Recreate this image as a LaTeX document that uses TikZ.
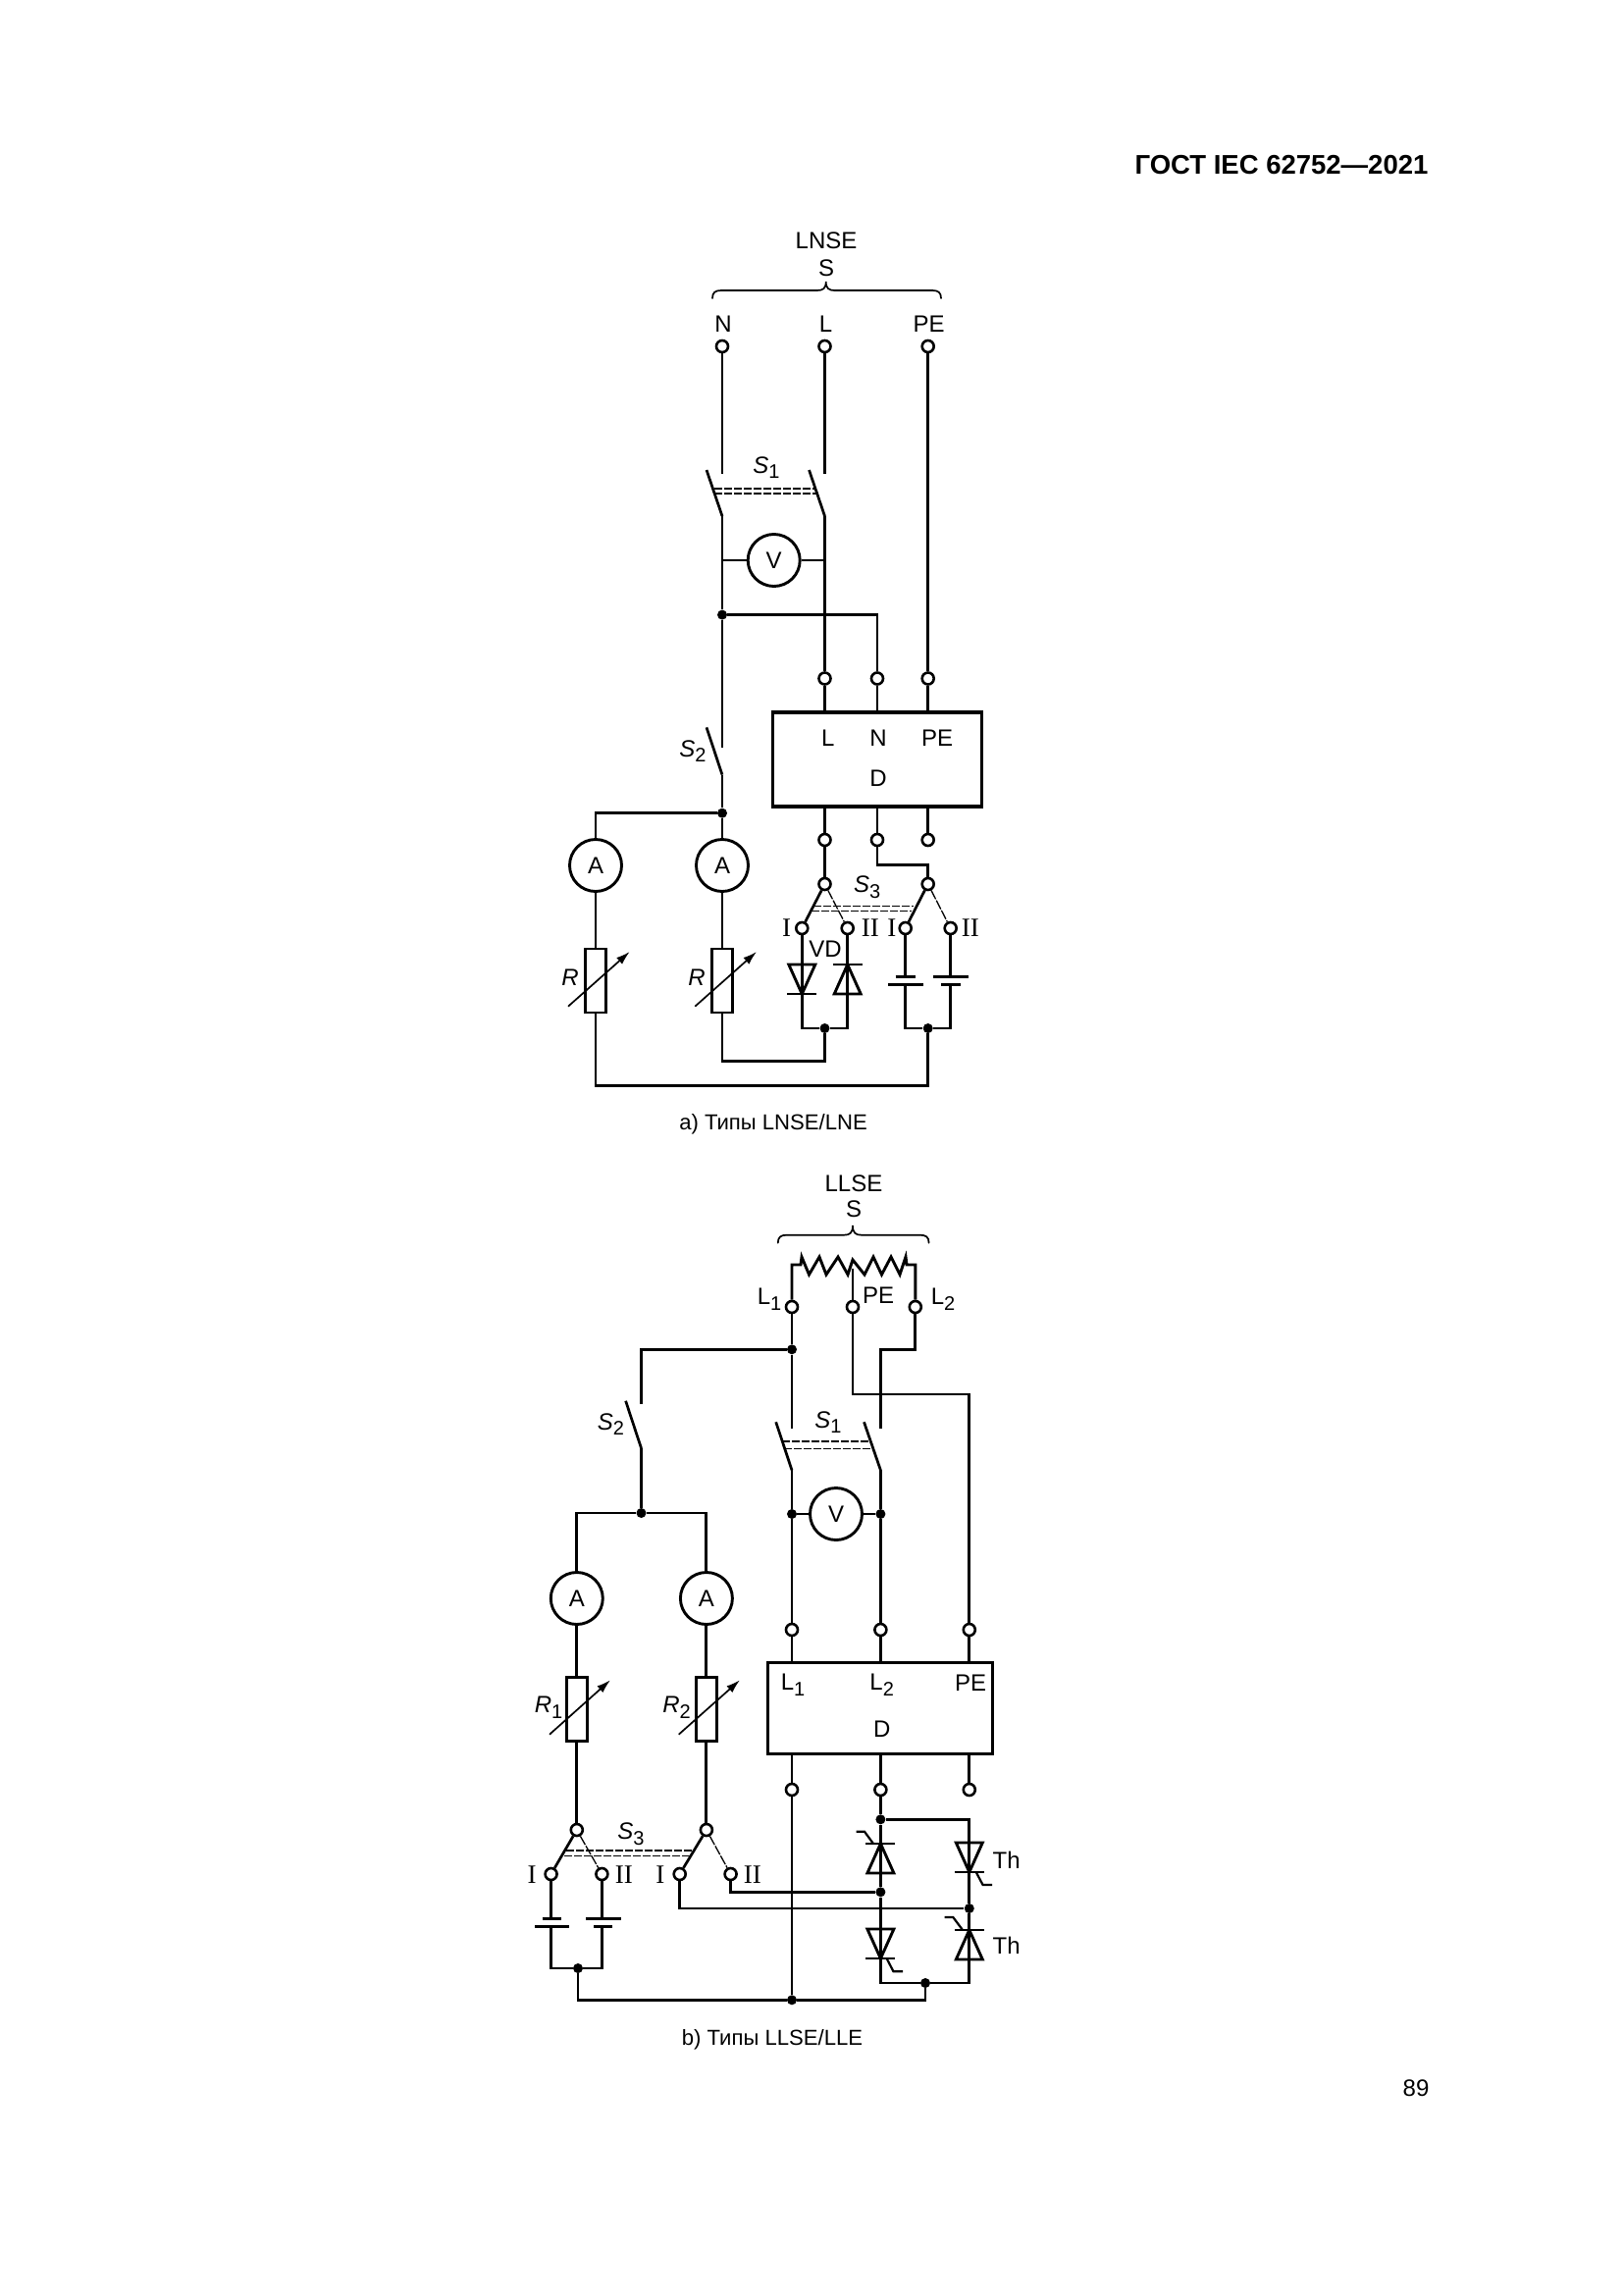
\documentclass[tikz,border=0pt]{standalone}
\usepackage{fontspec}
\setmainfont{Liberation Sans}
\newfontfamily\romanfont{Liberation Serif}
\usetikzlibrary{arrows.meta}
\newcommand\sbs[2]{#1\raisebox{-.4ex}{\fontsize{10}{10}\selectfont #2}}
\newcommand\itsb[2]{\textit{#1}\raisebox{-.4ex}{\fontsize{10}{10}\selectfont #2}}
% diode / thyristor triangles: x, base y, apex y
\newcommand\vdiode[3]{%
  \draw[wire,line join=miter] (#1-13.5,#2) -- (#1+13.5,#2) -- (#1,#3) -- cycle;
  \draw[wire] (#1-15,#3) -- (#1+15,#3);}
\newcommand\mybrace[5]{% x1 x2 xtip ybase ytip
  \draw[thinw,line cap=round] (#1,#4+8) .. controls (#1,#4+2) and (#1+3,#4) .. (#1+9,#4)
   -- (#3-9,#4) .. controls (#3-3,#4) and (#3,#4-2) .. (#3,#5)
   .. controls (#3,#4-2) and (#3+3,#4) .. (#3+9,#4)
   -- (#2-9,#4) .. controls (#2-3,#4) and (#2,#4+2) .. (#2,#4+8);}
\tikzset{
  wire/.style={line width=1.45pt},
  thinw/.style={line width=.85pt},
  blade/.style={line width=1.35pt},
  bladethin/.style={line width=.65pt,dash pattern=on 5pt off .7pt},
  gang/.style={line width=.7pt,dash pattern=on 4pt off 1pt},
  term/.style={circle,draw,line width=1.3pt,fill=white,minimum size=6pt,inner sep=0pt},
  junc/.style={circle,fill=black,minimum size=5pt,inner sep=0pt},
  meter/.style={circle,draw,line width=1.45pt,fill=white,minimum size=26.5pt,inner sep=0pt,font=\fontsize{12}{12}\selectfont},
  res/.style={rectangle,draw,line width=1.45pt,fill=white,minimum width=10.6pt,minimum height=32.5pt,inner sep=0pt},
  dev/.style={rectangle,draw,line width=1.55pt,inner sep=0pt},
  lab/.style={inner sep=0pt,xshift=.5pt,yshift=-.6pt,font=\fontsize{12}{13}\selectfont},
  rom/.style={inner sep=0pt,xshift=.4pt,yshift=-.4pt,font=\romanfont\fontsize{13.5}{13}\selectfont},
  varr/.style={line width=.85pt,-{Latex[length=7pt,width=4.4pt]}},
}
\begin{document}
\begin{tikzpicture}[x=.5pt,y=-.5pt]
\useasboundingbox (0,0) rectangle (1654,2339);
\fill[white] (0,0) rectangle (1654,2339);

\node[inner sep=0pt,font=\bfseries\fontsize{13.75}{15}\selectfont] (hdr) at (1306,168) {ГОСТ IEC 62752—2021};
\node[inner sep=0pt,font=\fontsize{12}{14}\selectfont] (pg) at (1443,2128) {89};

%%%%%%%% (a)
\node[lab] (aT) at (841,244.5) {LNSE};
\node[lab] (aS) at (841,272) {S};
\mybrace{726}{959}{841.7}{296}{287}
\node[lab] (alN) at (736,329) {N};
\node[lab] (alL) at (840.5,329) {L};
\node[lab] (alPE) at (945.7,329) {PE};

\node[term] (aN) at (736,353) {};
\node[term] (aL) at (840.5,353) {};
\node[term] (aPE) at (945.7,353) {};
\coordinate (aNa) at (736,483);
\coordinate (aLa) at (840.5,483);
\coordinate (aNbt) at (720,479);
\coordinate (aNb) at (736,526);
\coordinate (aLbt) at (824.5,479);
\coordinate (aLb) at (840.5,526);
\node[meter] (aV) at (788.7,571) {V};
\coordinate (aVl) at (736,571);
\coordinate (aVr) at (840.5,571);
\node[junc] (aJ1) at (736,626.6) {};
\coordinate (aJ1r) at (894,626.6);
\node[term] (aLi) at (840.5,691.5) {};
\node[term] (aNi) at (894,691.5) {};
\node[term] (aPi) at (945.7,691.5) {};
\draw[wire] (aN) -- (aNa);
\draw[wire] (aL) -- (aLa);
\draw[blade] (aNbt) -- (aNb);
\draw[blade] (aLbt) -- (aLb);
\draw[gang] (728,498) -- (830,498);
\draw[gang] (728,503) -- (832,503);
\node[lab] (aS1) at (780,475) {\itsb{S}{1}};
\draw[wire] (aNb) -- (aJ1);
\draw[wire] (aLb) -- (aLi);
\draw[wire] (aVl) -- (aV);
\draw[wire] (aV) -- (aVr);
\draw[wire] (aPE) -- (aPi);
\draw[wire] (aJ1) -- (aJ1r) -- (aNi);

\node[dev,minimum width=106.5pt,minimum height=48pt] (aD) at (894,774) {};
\node[lab] (aDL) at (842.7,751.5) {L};
\node[lab] (aDN) at (894,751.5) {N};
\node[lab] (aDP) at (954,751.5) {PE};
\node[lab] (aDD) at (894,791.6) {D};
\draw[wire] (aLi) -- (aLi |- aD.north);
\draw[wire] (aNi) -- (aNi |- aD.north);
\draw[wire] (aPi) -- (aPi |- aD.north);

\coordinate (aS2a) at (736,762);
\coordinate (aS2t) at (720,741.4);
\coordinate (aS2b) at (736,789.6);
\node[junc] (aJ2) at (736,828.7) {};
\coordinate (aJ2l) at (607,828.7);
\draw[wire] (aJ1) -- (aS2a);
\draw[blade] (aS2t) -- (aS2b);
\draw[wire] (aS2b) -- (aJ2);
\node[lab] (aS2) at (705,764) {\itsb{S}{2}};

\node[meter] (aA1) at (607,882) {A};
\node[meter] (aA2) at (736,882) {A};
\node[res] (aR1) at (607,999.5) {};
\node[res] (aR2) at (736,999.5) {};
\draw[wire] (aJ2) -- (aJ2l) -- (aA1);
\draw[wire] (aJ2) -- (aA2);
\draw[wire] (aA1) -- (aR1);
\draw[wire] (aA2) -- (aR2);
\coordinate (aV1s) at (579,1025.7); \coordinate (aV1e) at (641.7,970);
\coordinate (aV2s) at (708.3,1025.7); \coordinate (aV2e) at (771,970);
\draw[varr] (aV1s) -- (aV1e);
\draw[varr] (aV2s) -- (aV2e);
\node[lab,font=\itshape\fontsize{12}{13}\selectfont] (aRl1) at (580,995) {R};
\node[lab,font=\itshape\fontsize{12}{13}\selectfont] (aRl2) at (709,995) {R};

\node[term] (aLo) at (840.5,856) {};
\node[term] (aNo) at (894,856) {};
\node[term] (aPo) at (945.7,856) {};
\node[term] (aSwL) at (840.5,901) {};
\node[term] (aSwP) at (945.7,901) {};
\node[term] (aC1) at (817.3,946) {};
\node[term] (aC2) at (863.7,946) {};
\node[term] (aC3) at (922.7,946) {};
\node[term] (aC4) at (968.7,946) {};
\draw[wire] (aLo |- aD.south) -- (aLo);
\draw[wire] (aNo |- aD.south) -- (aNo);
\draw[wire] (aPo |- aD.south) -- (aPo);
\draw[wire] (aLo) -- (aSwL);
\coordinate (aNk1) at (894,881.7); \coordinate (aNk2) at (945.7,881.7);
\draw[wire] (aNo) -- (aNk1) -- (aNk2) -- (aSwP);
\draw[blade] (aSwL) -- (aC1);
\draw[bladethin] (aSwL) -- (aC2);
\draw[blade] (aSwP) -- (aC3);
\draw[bladethin] (aSwP) -- (aC4);
\draw[gang] (829,923.3) -- (931,923.3);
\draw[gang] (827,928.3) -- (929,928.3);
\node[lab] (aS3) at (882.7,903) {\itsb{S}{3}};
\node[rom] (aI1) at (800.7,945) {I};
\node[rom] (aII1) at (886,945) {II};
\node[rom] (aI2) at (908,945) {I};
\node[rom] (aII2) at (988,945) {II};
\node[lab] (aVD) at (840,966) {VD};

\node[junc] (aJ3) at (840.5,1048) {};
\node[junc] (aJ4) at (945.7,1048) {};
\coordinate (aB1) at (817.3,1048); \coordinate (aB2) at (863.7,1048);
\coordinate (aB3) at (922.7,1048); \coordinate (aB4) at (968.7,1048);
\draw[wire] (aC1) -- (aB1) -- (aJ3);
\draw[wire] (aC2) -- (aB2) -- (aJ3);
\vdiode{817.3}{983}{1013}
\vdiode{863.7}{1013}{983}
% batteries
\draw[wire] (aC3) -- (922.7,995.7);
\draw[wire] (922.7,1003.3) -- (aB3) -- (aJ4);
\draw[wire] (aC4) -- (968.7,995.7);
\draw[wire] (968.7,1003.3) -- (aB4) -- (aJ4);
\draw[wire] (912.7,995.7) -- (932.7,995.7);
\draw[wire] (905,1003.3) -- (940.7,1003.3);
\draw[wire] (950.7,995.7) -- (986.7,995.7);
\draw[wire] (959,1003.3) -- (979,1003.3);
\coordinate (aK1) at (840.5,1081.7); \coordinate (aK2) at (736,1081.7);
\draw[wire] (aJ3) -- (aK1) -- (aK2) -- (aR2);
\coordinate (aK3) at (945.7,1106.7); \coordinate (aK4) at (607,1106.7);
\draw[wire] (aJ4) -- (aK3) -- (aK4) -- (aR1);
\node[inner sep=0pt,font=\fontsize{11.05}{13}\selectfont] (aCap) at (788,1145.5) {a) Типы LNSE/LNE};

%%%%%%%% (b)
\node[lab] (bT) at (869,1205) {LLSE};
\node[lab] (bS) at (869,1230.7) {S};
\mybrace{792.8}{946.6}{869}{1258.7}{1249}
\node[term] (bL1) at (807,1332) {};
\node[term] (bP) at (869,1332) {};
\node[term] (bL2) at (932.8,1332) {};
\coordinate (bZ1) at (807,1289); \coordinate (bZ2) at (932.8,1289);
\coordinate (bZm) at (869,1293);
\draw[wire,line join=miter] (bL1) -- (bZ1) -- (816,1289) -- (817,1281) -- (824.5,1299) -- (835,1281) -- (842,1299) -- (854,1281) -- (864,1299) -- (869,1284) -- (881,1299) -- (890,1281) -- (898.5,1299) -- (908,1281) -- (917,1299) -- (923,1281) -- (924,1289) -- (bZ2) -- (bL2);
\draw[wire] (bP) -- (bZm);
\node[lab] (blL1) at (783,1323) {\sbs{L}{1}};
\node[lab] (blP) at (894,1319) {PE};
\node[lab] (blL2) at (960,1323) {\sbs{L}{2}};

\node[junc] (bJ1) at (807,1375.3) {};
\coordinate (bS1a) at (807,1456);
\coordinate (bL2k1) at (932.8,1375.3); \coordinate (bL2k2) at (897.4,1375.3);
\coordinate (bS1b) at (897.4,1456);
\coordinate (bPk1) at (869,1421); \coordinate (bPk2) at (987.8,1421);
\node[term] (bLi1) at (807,1661) {};
\node[term] (bLi2) at (897.4,1661) {};
\node[term] (bPi) at (987.8,1661) {};
\draw[wire] (bL1) -- (bJ1) -- (bS1a);
\draw[wire] (bL2) -- (bL2k1) -- (bL2k2) -- (bS1b);
\draw[wire] (bP) -- (bPk1) -- (bPk2) -- (bPi);
\coordinate (bS2k) at (653.5,1375.3); \coordinate (bS2a) at (653.5,1430.7);
\draw[wire] (bJ1) -- (bS2k) -- (bS2a);
\coordinate (bS2t) at (637.6,1427.7); \coordinate (bS2b) at (653.5,1476);
\draw[blade] (bS2t) -- (bS2b);
\node[lab] (bS2) at (621.5,1450.7) {\itsb{S}{2}};
\coordinate (bB1t) at (790.7,1449.3); \coordinate (bB1b) at (807,1498.3);
\coordinate (bB2t) at (880.5,1449.3); \coordinate (bB2b) at (897.4,1498.3);
\draw[blade] (bB1t) -- (bB1b);
\draw[blade] (bB2t) -- (bB2b);
\draw[gang] (797,1469) -- (885,1469);
\draw[gang] (799,1476.7) -- (888,1476.7);
\node[lab] (bS1) at (843,1448) {\itsb{S}{1}};
\node[meter] (bV) at (852,1543) {V};
\node[junc] (bVl) at (807,1543) {};
\node[junc] (bVr) at (897.4,1543) {};
\draw[wire] (bB1b) -- (bVl) -- (bLi1);
\draw[wire] (bB2b) -- (bVr) -- (bLi2);
\draw[wire] (bVl) -- (bV);
\draw[wire] (bV) -- (bVr);

\node[junc] (bJ2) at (653.5,1542) {};
\coordinate (bK1) at (587.8,1542); \coordinate (bK2) at (719.9,1542);
\draw[wire] (bS2b) -- (bJ2);
\node[meter] (bA1) at (587.8,1629) {A};
\node[meter] (bA2) at (719.9,1629) {A};
\draw[wire] (bJ2) -- (bK1) -- (bA1);
\draw[wire] (bJ2) -- (bK2) -- (bA2);
\node[res] (bR1) at (587.8,1741.8) {};
\node[res] (bR2) at (719.9,1741.8) {};
\draw[wire] (bA1) -- (bR1);
\draw[wire] (bA2) -- (bR2);
\coordinate (bV1s) at (560,1767.7); \coordinate (bV1e) at (622,1712.3);
\coordinate (bV2s) at (691.7,1767.7); \coordinate (bV2e) at (754,1712.3);
\draw[varr] (bV1s) -- (bV1e);
\draw[varr] (bV2s) -- (bV2e);
\node[lab] (bRl1) at (558,1739) {\itsb{R}{1}};
\node[lab] (bRl2) at (688.6,1739) {\itsb{R}{2}};

\node[dev,minimum width=114.3pt,minimum height=46.7pt] (bD) at (896.8,1741) {};
\node[lab] (bDL1) at (807,1716) {\sbs{L}{1}};
\node[lab] (bDL2) at (897.7,1716) {\sbs{L}{2}};
\node[lab] (bDP) at (988,1714) {PE};
\node[lab] (bDD) at (897.7,1761) {D};
\draw[wire] (bLi1) -- (bLi1 |- bD.north);
\draw[wire] (bLi2) -- (bLi2 |- bD.north);
\draw[wire] (bPi) -- (bPi |- bD.north);
\node[term] (bLo1) at (807,1824) {};
\node[term] (bLo2) at (897.4,1824) {};
\node[term] (bPo) at (987.8,1824) {};
\draw[wire] (bLo1 |- bD.south) -- (bLo1);
\draw[wire] (bLo2 |- bD.south) -- (bLo2);
\draw[wire] (bPo |- bD.south) -- (bPo);

\node[term] (bSw1) at (587.8,1865) {};
\node[term] (bSw2) at (719.9,1865) {};
\node[term] (bC1) at (561.6,1910) {};
\node[term] (bC2) at (613.4,1910) {};
\node[term] (bC3) at (692.7,1910) {};
\node[term] (bC4) at (744.6,1910) {};
\draw[wire] (bR1) -- (bSw1);
\draw[wire] (bR2) -- (bSw2);
\draw[blade] (bSw1) -- (bC1);
\draw[bladethin] (bSw1) -- (bC2);
\draw[blade] (bSw2) -- (bC3);
\draw[bladethin] (bSw2) -- (bC4);
\draw[gang] (577,1886) -- (706,1886);
\draw[gang] (575,1891.3) -- (703,1891.3);
\node[lab] (bS3) at (642,1868) {\itsb{S}{3}};
\node[rom] (bI1) at (541.3,1910) {I};
\node[rom] (bII1) at (635,1910) {II};
\node[rom] (bI2) at (672,1910) {I};
\node[rom] (bII2) at (766,1910) {II};

% batteries b
\draw[wire] (bC1) -- (561.6,1955.3);
\draw[wire] (bC2) -- (613.4,1955.3);
\draw[wire] (552.7,1955.3) -- (572.3,1955.3);
\draw[wire] (545,1963.3) -- (580,1963.3);
\draw[wire] (597.4,1955.3) -- (632.5,1955.3);
\draw[wire] (605,1963.3) -- (624,1963.3);
\node[junc] (bJ3) at (589,2006) {};
\coordinate (bB1) at (561.6,2006); \coordinate (bB2) at (613.4,2006);
\draw[wire] (561.6,1963.3) -- (bB1) -- (bJ3);
\draw[wire] (613.4,1963.3) -- (bB2) -- (bJ3);
\node[junc] (bJ4) at (807,2038.3) {};
\node[junc] (bJ5) at (943,2021) {};
\coordinate (bK3) at (589,2038.3); \coordinate (bK4) at (943,2038.3);
\draw[wire] (bJ3) -- (bK3) -- (bJ4) -- (bK4) -- (bJ5);
\draw[wire] (bLo1) -- (bJ4);

% thyristor bridge
\node[junc] (bT1) at (897.4,1854.3) {};
\node[junc] (bT2) at (897.4,1928.3) {};
\node[junc] (bT3) at (987.8,1945) {};
\coordinate (bTa) at (987.8,1854.3);
\coordinate (bTb) at (987.8,2021);
\coordinate (bTc) at (897.4,2021);
\draw[wire] (bLo2) -- (bT1) -- (bT2) -- (bTc) -- (bJ5) -- (bTb) -- (bT3) -- (bTa) -- (bT1);
\coordinate (bM1) at (744.6,1928.3);
\coordinate (bM2) at (692.7,1945);
\draw[wire] (bC4) -- (bM1) -- (bT2);
\draw[wire] (bC3) -- (bM2) -- (bT3);
\vdiode{897.4}{1909}{1879}
\vdiode{987.8}{1878}{1908}
\vdiode{897.4}{1966}{1996}
\vdiode{987.8}{1997}{1967}
\draw[line width=1.1pt] (890,1879) -- (881,1866.7) -- (872.6,1866.7);
\draw[line width=1.1pt] (994.7,1908) -- (1001.6,1921) -- (1011,1921);
\draw[line width=1.1pt] (903.6,1996) -- (910.5,2009.3) -- (920,2009.3);
\draw[line width=1.1pt] (981,1967) -- (971.3,1954) -- (962.7,1954);
\node[lab] (bTh1) at (1024.6,1895) {Th};
\node[lab] (bTh2) at (1024.6,1981.7) {Th};
\node[inner sep=0pt,font=\fontsize{11.05}{13}\selectfont] (bCap) at (787,2079) {b) Типы LLSE/LLE};
\end{tikzpicture}
\end{document}
